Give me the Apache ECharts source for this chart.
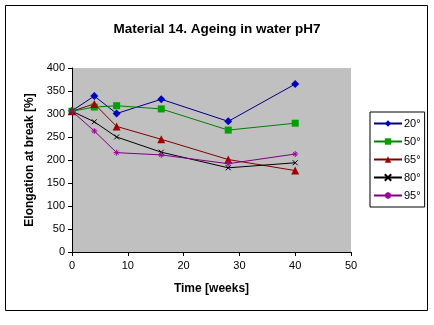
<!DOCTYPE html>
<html><head><meta charset="utf-8">
<script src="https://cdn.jsdelivr.net/npm/echarts@6/dist/echarts.min.js"></script>
<style>html,body{margin:0;padding:0;background:#fff}#c{width:434px;height:325px}</style>
</head><body><div id="c"></div>
<script>
const weeks = [0, 4, 8, 16, 28, 40];
const seriesNames = ['20°', '50°', '65°', '80°', '95°'];
const s20 = [307, 339, 301, 332, 284, 365];
const s50 = [306, 315, 318, 311, 265, 280];
const s65 = [306, 322, 273, 245, 201, 177];
const s80 = [306, 283, 250, 217, 183, 194];
const s95 = [306, 263, 216, 211, 192, 213];
const xTicks = [0, 10, 20, 30, 40, 50];
const yTicks = [0, 50, 100, 150, 200, 250, 300, 350, 400];

const values = [s20, s50, s65, s80, s95];
const lineColors = ['#000080', '#008000', '#800000', '#000000', '#800080'];
const markColors = ['#0000c0', '#00a000', '#a00000', '#000000', '#a000a0'];
const symbols = ['diamond', 'rect', 'triangle',
  'path://M0,0L10,10M10,0L0,10',
  'path://M5,0L5,10M0,5L10,5M1.5,1.5L8.5,8.5M8.5,1.5L1.5,8.5'];
const sizes = [8, 7, 8, 5, 6];

const chart = echarts.init(document.getElementById('c'), null, {renderer: 'canvas'});
chart.setOption({
  animation: false,
  backgroundColor: '#fff',
  textStyle: {fontFamily: 'Liberation Sans, Arial, sans-serif'},
  graphic: [{type: 'rect', shape: {x: 5.5, y: 5.5, width: 422, height: 305}, style: {fill: 'none', stroke: '#000', lineWidth: 1}, z: -1}],
  title: {text: 'Material 14. Ageing in water pH7', left: 'center', top: 17,
    textStyle: {fontSize: 13.5, fontWeight: 'bold', color: '#000', fontFamily: 'Liberation Sans, Arial'}},
  grid: {left: 72, right: 83, top: 68, bottom: 73, show: true, backgroundColor: '#c0c0c0', borderWidth: 0},
  legend: {
    orient: 'vertical', left: 370, top: 112, width: 53,
    borderColor: '#000', borderWidth: 1, padding: [6, 4, 6, 3], itemGap: 7,
    itemWidth: 28, itemHeight: 8,
    textStyle: {fontSize: 11, color: '#000', padding: [0, 0, 0, -3]},
    data: seriesNames
  },
  xAxis: {
    type: 'value', min: xTicks[0], max: xTicks[xTicks.length - 1], interval: 10,
    name: 'Time [weeks]', nameLocation: 'middle', nameGap: 31,
    nameTextStyle: {fontSize: 12, fontWeight: 'bold', color: '#000'},
    axisLine: {lineStyle: {color: '#000'}},
    axisTick: {show: true, length: 4, lineStyle: {color: '#000'}},
    axisLabel: {fontSize: 11, color: '#000', margin: 8},
    splitLine: {show: false}
  },
  yAxis: {
    type: 'value', min: yTicks[0], max: yTicks[yTicks.length - 1], interval: 50,
    name: 'Elongation at break [%]', nameLocation: 'middle', nameGap: 36,
    nameTextStyle: {fontSize: 12, fontWeight: 'bold', color: '#000'},
    axisLine: {show: true, lineStyle: {color: '#000'}},
    axisTick: {show: true, length: 4, lineStyle: {color: '#000'}},
    axisLabel: {fontSize: 11, color: '#000', margin: 7},
    splitLine: {show: false}
  },
  series: seriesNames.map((n, i) => ({
    name: n, type: 'line',
    data: weeks.map((w, j) => [w, values[i][j]]),
    symbol: symbols[i], symbolSize: sizes[i], showSymbol: true,
    lineStyle: {color: lineColors[i], width: 1},
    itemStyle: {color: markColors[i], borderColor: markColors[i], borderWidth: i >= 3 ? 1 : 0}
  }))
});
</script></body></html>
